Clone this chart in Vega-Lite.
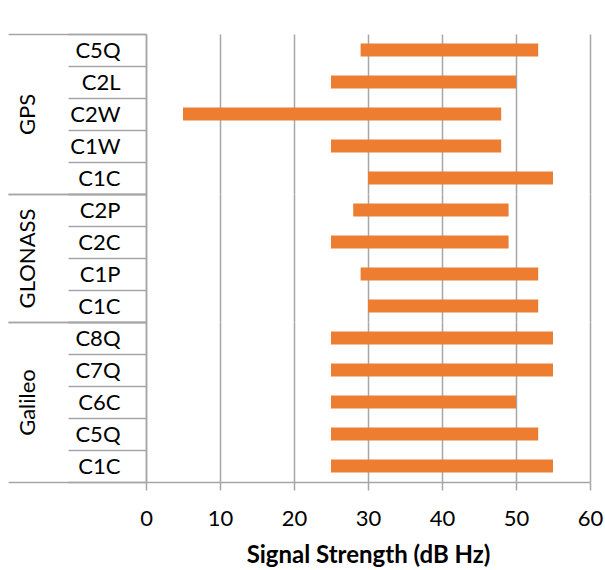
{
  "$schema": "https://vega.github.io/schema/vega-lite/v6.json",
  "padding": {"left": 7, "top": 23, "right": 4, "bottom": 0},
  "background": "white",
  "bounds": "flush",
  "data": {
    "values": [
      {"system": "GPS", "signal": "C5Q", "low": 29, "high": 53},
      {"system": "GPS", "signal": "C2L", "low": 25, "high": 50},
      {"system": "GPS", "signal": "C2W", "low": 5, "high": 48},
      {"system": "GPS", "signal": "C1W", "low": 25, "high": 48},
      {"system": "GPS", "signal": "C1C", "low": 30, "high": 55},
      {"system": "GLONASS", "signal": "C2P", "low": 28, "high": 49},
      {"system": "GLONASS", "signal": "C2C", "low": 25, "high": 49},
      {"system": "GLONASS", "signal": "C1P", "low": 29, "high": 53},
      {"system": "GLONASS", "signal": "C1C", "low": 30, "high": 53},
      {"system": "Galileo", "signal": "C8Q", "low": 25, "high": 55},
      {"system": "Galileo", "signal": "C7Q", "low": 25, "high": 55},
      {"system": "Galileo", "signal": "C6C", "low": 25, "high": 50},
      {"system": "Galileo", "signal": "C5Q", "low": 25, "high": 53},
      {"system": "Galileo", "signal": "C1C", "low": 25, "high": 55}
    ]
  },
  "spacing": 0,
  "vconcat": [
    {
      "width": 444,
      "height": 160,
      "transform": [{"filter": "datum.system === 'GPS'"}],
      "layer": [
        {
          "mark": {"type": "bar", "color": "#ED7D31", "height": {"band": 0.4}},
          "encoding": {
            "y": {"field": "signal", "type": "nominal", "sort": null, "scale": {"paddingInner": 0, "paddingOuter": 0},
              "axis": {"orient": "left", "title": null, "domain": true, "domainColor": "#A6A6A6", "domainWidth": 1.5, "tickBand": "extent", "tickSize": 78, "tickColor": "#A6A6A6", "tickWidth": 1.5, "labelAlign": "right", "labelBaseline": "middle", "labelPadding": -52, "labelFont": "Lato", "labelFontSize": 22, "labelColor": "#000000", "grid": false}},
            "x": {"field": "low", "type": "quantitative", "scale": {"domain": [0, 60], "nice": false},
              "axis": {"title": null, "labels": false, "ticks": false, "domain": false, "grid": true, "gridColor": "#A6A6A6", "gridWidth": 1.5, "values": [0, 10, 20, 30, 40, 50, 60]}},
            "x2": {"field": "high"}
          }
        },
        {
          "mark": {"type": "text", "text": ""},
          "encoding": {
            "y": {"field": "system", "type": "nominal", "scale": {"paddingInner": 0, "paddingOuter": 0},
              "axis": {"orient": "left", "title": null, "domain": false, "tickBand": "extent", "tickSize": 138, "tickColor": "#A6A6A6", "tickWidth": 1.5, "labelAngle": -90, "labelAlign": "center", "labelBaseline": "middle", "labelPadding": -19.5, "labelFont": "Lato", "labelFontSize": 22, "labelColor": "#000000", "grid": false}}
          }
        }
      ],
      "resolve": {"scale": {"y": "independent"}, "axis": {"y": "independent"}}
    },
    {
      "width": 444,
      "height": 128,
      "transform": [{"filter": "datum.system === 'GLONASS'"}],
      "layer": [
        {
          "mark": {"type": "bar", "color": "#ED7D31", "height": {"band": 0.4}},
          "encoding": {
            "y": {"field": "signal", "type": "nominal", "sort": null, "scale": {"paddingInner": 0, "paddingOuter": 0},
              "axis": {"orient": "left", "title": null, "domain": true, "domainColor": "#A6A6A6", "domainWidth": 1.5, "tickBand": "extent", "tickSize": 78, "tickColor": "#A6A6A6", "tickWidth": 1.5, "labelAlign": "right", "labelBaseline": "middle", "labelPadding": -52, "labelFont": "Lato", "labelFontSize": 22, "labelColor": "#000000", "grid": false}},
            "x": {"field": "low", "type": "quantitative", "scale": {"domain": [0, 60], "nice": false},
              "axis": {"title": null, "labels": false, "ticks": false, "domain": false, "grid": true, "gridColor": "#A6A6A6", "gridWidth": 1.5, "values": [0, 10, 20, 30, 40, 50, 60]}},
            "x2": {"field": "high"}
          }
        },
        {
          "mark": {"type": "text", "text": ""},
          "encoding": {
            "y": {"field": "system", "type": "nominal", "scale": {"paddingInner": 0, "paddingOuter": 0},
              "axis": {"orient": "left", "title": null, "domain": false, "tickBand": "extent", "tickSize": 138, "tickColor": "#A6A6A6", "tickWidth": 1.5, "labelAngle": -90, "labelAlign": "center", "labelBaseline": "middle", "labelPadding": -19.5, "labelFont": "Lato", "labelFontSize": 22, "labelColor": "#000000", "grid": false}}
          }
        }
      ],
      "resolve": {"scale": {"y": "independent"}, "axis": {"y": "independent"}}
    },
    {
      "width": 444,
      "height": 160,
      "transform": [{"filter": "datum.system === 'Galileo'"}],
      "layer": [
        {
          "mark": {"type": "bar", "color": "#ED7D31", "height": {"band": 0.4}},
          "encoding": {
            "y": {"field": "signal", "type": "nominal", "sort": null, "scale": {"paddingInner": 0, "paddingOuter": 0},
              "axis": {"orient": "left", "title": null, "domain": true, "domainColor": "#A6A6A6", "domainWidth": 1.5, "tickBand": "extent", "tickSize": 78, "tickColor": "#A6A6A6", "tickWidth": 1.5, "labelAlign": "right", "labelBaseline": "middle", "labelPadding": -52, "labelFont": "Lato", "labelFontSize": 22, "labelColor": "#000000", "grid": false}},
            "x": {"field": "low", "type": "quantitative", "scale": {"domain": [0, 60], "nice": false},
              "axis": {"title": "Signal Strength (dB Hz)", "titleFont": "Lato", "titleFontSize": 24, "titleFontWeight": "bold", "titleColor": "#000000", "titlePadding": 14,
                "labels": true, "labelFlush": false, "labelFont": "Lato", "labelFontSize": 22, "labelColor": "#000000", "labelPadding": 18,
                "ticks": true, "tickSize": 8, "tickColor": "#A6A6A6", "tickWidth": 1.5,
                "domain": true, "domainColor": "#A6A6A6", "domainWidth": 1.5,
                "grid": true, "gridColor": "#A6A6A6", "gridWidth": 1.5, "values": [0, 10, 20, 30, 40, 50, 60]}},
            "x2": {"field": "high"}
          }
        },
        {
          "mark": {"type": "text", "text": ""},
          "encoding": {
            "y": {"field": "system", "type": "nominal", "scale": {"paddingInner": 0, "paddingOuter": 0},
              "axis": {"orient": "left", "title": null, "domain": false, "tickBand": "extent", "tickSize": 138, "tickColor": "#A6A6A6", "tickWidth": 1.5, "labelAngle": -90, "labelAlign": "center", "labelBaseline": "middle", "labelPadding": -19.5, "labelFont": "Lato", "labelFontSize": 22, "labelColor": "#000000", "grid": false}}
          }
        }
      ],
      "resolve": {"scale": {"y": "independent"}, "axis": {"y": "independent"}}
    }
  ],
  "config": {"view": {"stroke": null}}
}
